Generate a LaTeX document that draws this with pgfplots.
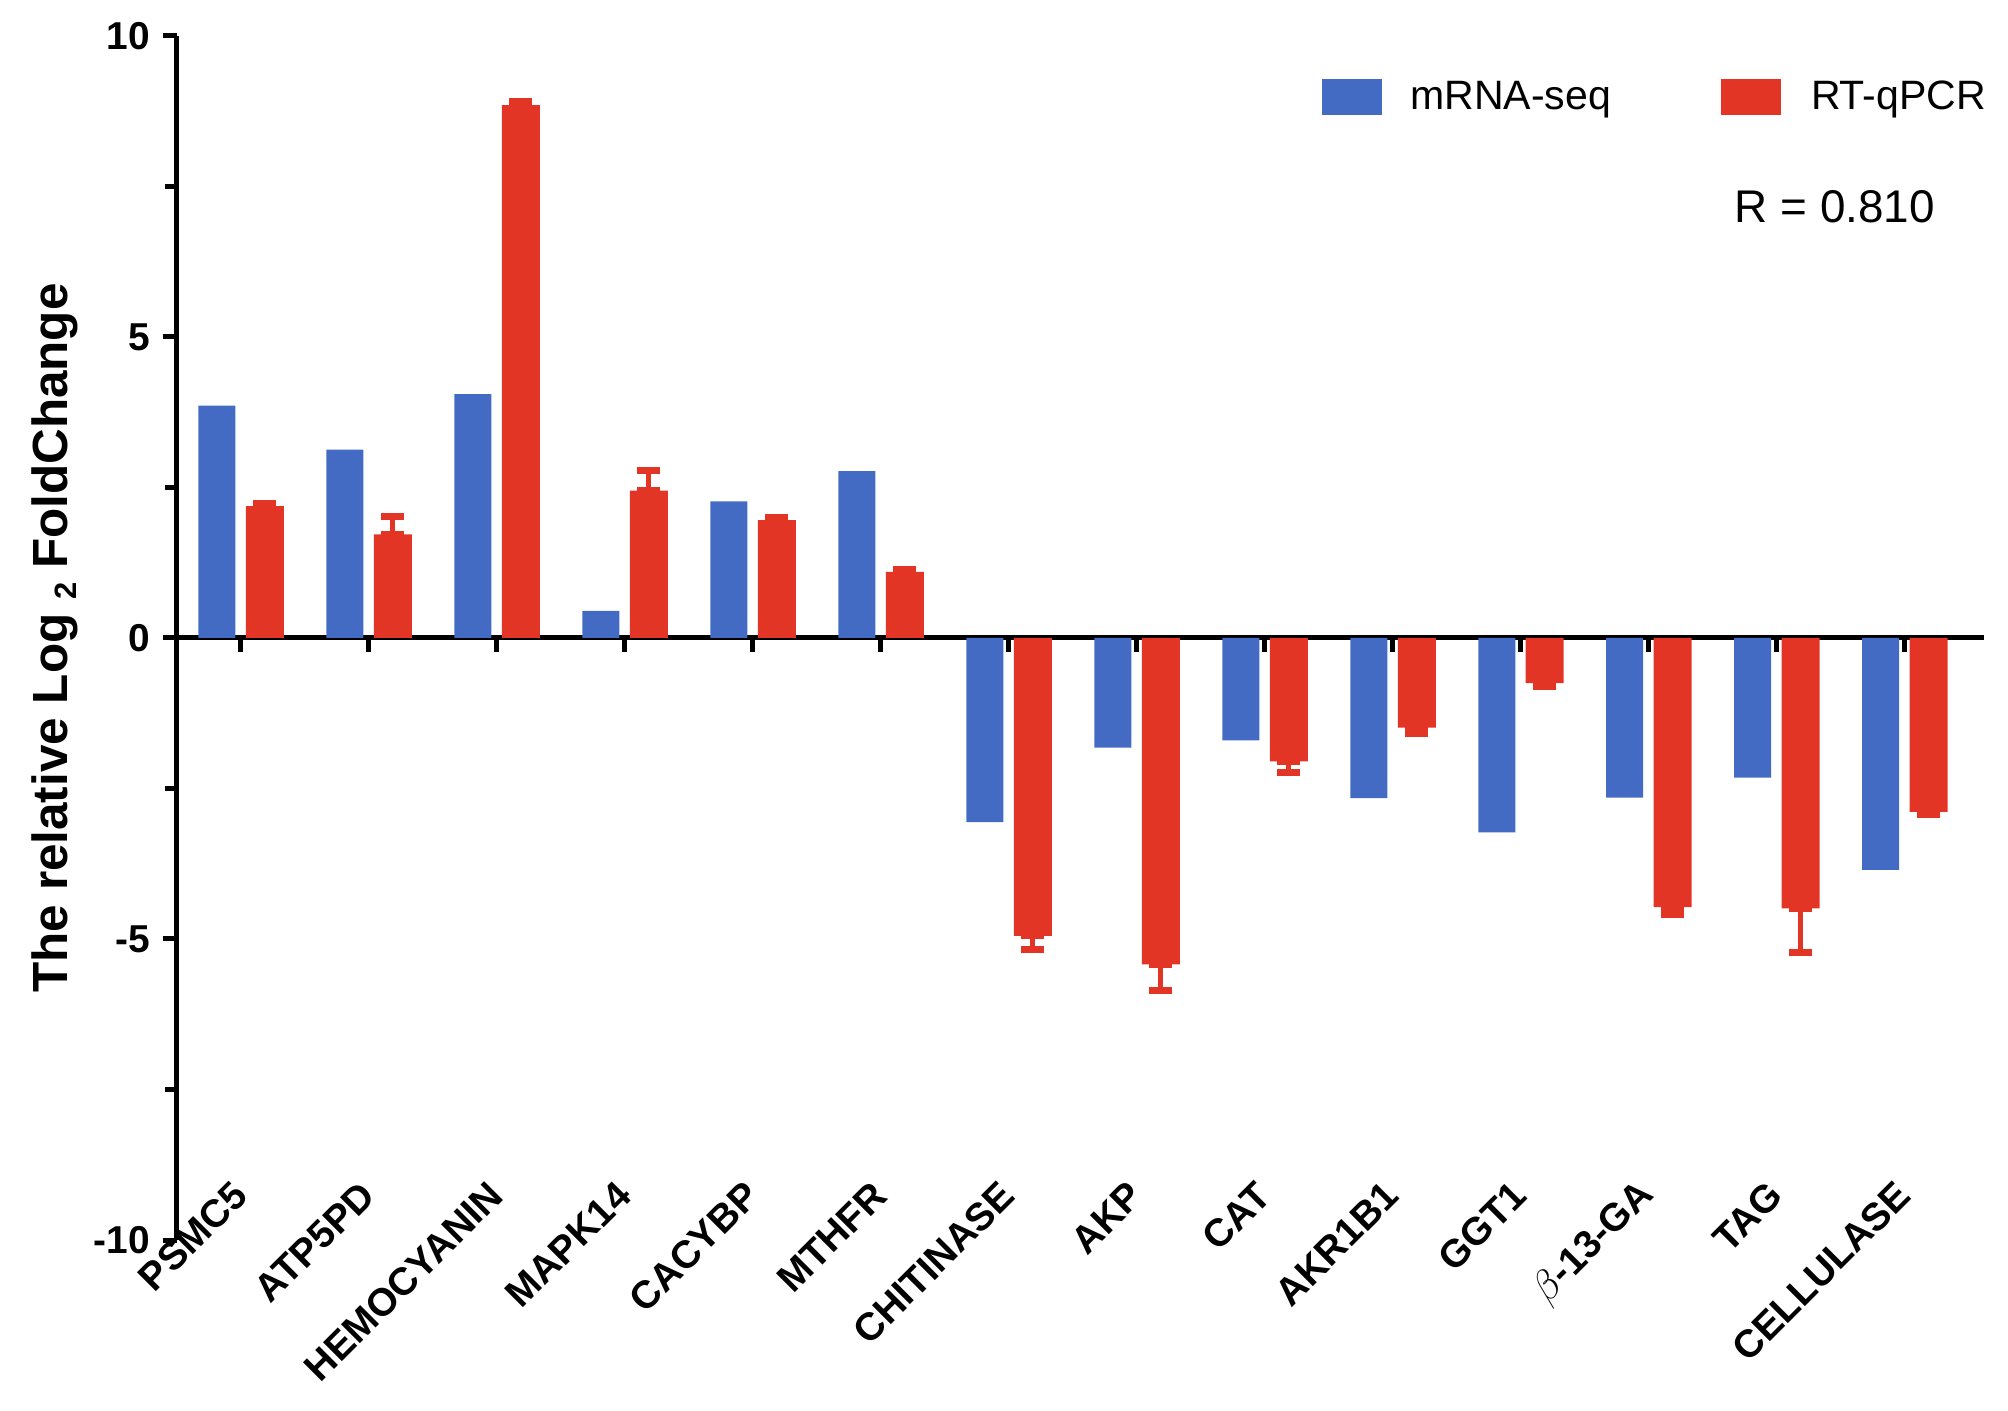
\documentclass[border=0pt]{standalone}
\usepackage{pgfplots}
\pgfplotsset{compat=1.18}
\usepackage{pgfplotstable}
\usepackage{fontspec}
\setmainfont{Liberation Sans}

\definecolor{seqblue}{RGB}{67,107,196}
\definecolor{pcrred}{RGB}{227,53,38}

% log2 fold change, mRNA-seq vs RT-qPCR (ep/em = one-sided error of qPCR)
\pgfplotstableread{
x  mrna   qpcr   ep    em
0   3.86   2.19  0.04  0
1   3.13   1.72  0.30  0
2   4.05   8.85  0.06  0
3   0.45   2.45  0.33  0
4   2.27   1.96  0.04  0
5   2.77   1.10  0.04  0
6  -3.06  -4.95  0     0.23
7  -1.82  -5.42  0     0.43
8  -1.70  -2.05  0     0.18
9  -2.66  -1.49  0     0.10
10 -3.23  -0.75  0     0.05
11 -2.65  -4.47  0     0.12
12 -2.32  -4.49  0     0.74
13 -3.85  -2.89  0     0.04
}\logfc

\begin{document}
\begin{tikzpicture}
\begin{axis}[
    scale only axis, width=903.5bp, height=602bp,
    xmin=-0.5, xmax=13.62, ymin=-10, ymax=10,
    axis x line=middle, axis y line=left,
    axis line style={-, line width=2.5bp},
    hide obscured x ticks=false, hide obscured y ticks=false,
    every tick/.style={black, line width=2.5bp},
    tick align=outside,
    major tick length=7bp, minor tick length=6bp,
    xtick={0,...,13},
    xticklabels={PSMC5,ATP5PD,HEMOCYANIN,MAPK14,CACYBP,MTHFR,CHITINASE,AKP,CAT,AKR1B1,GGT1,{$\beta$-13-GA},TAG,CELLULASE},
    xticklabel style={font=\bfseries\fontsize{19.5}{19.5}\selectfont, xshift=2bp, rotate=45, anchor=east},
    xticklabel shift=266bp,
    ytick={-10,-5,0,5,10},
    minor ytick={-7.5,-2.5,2.5,7.5},
    yticklabel style={font=\bfseries\fontsize{19.5}{19.5}\selectfont, xshift=-3bp},
    /pgf/number format/assume math mode=true,
    ylabel={The relative Log \raisebox{-0.35ex}{\fontsize{15.5}{15.5}\selectfont 2} FoldChange},
    ylabel style={font=\bfseries\fontsize{24.8}{24.8}\selectfont, at={(rel axis cs:-0.0675,0.5)}, anchor=center},
    legend columns=2,
    legend style={at={(rel axis cs:0.6336,0.9493)}, anchor=west, draw=none, fill=none,
        inner sep=0pt, nodes={inner sep=0pt}, font=\fontsize{20.6}{20.6}\selectfont,
        /tikz/every even column/.append style={column sep=55bp}},
]
  \addplot[ybar, bar width=18.5bp, bar shift=0pt, fill=seqblue, draw=none,
      legend image code/.code={\fill[seqblue] (0bp,-9bp) rectangle (30bp,9bp); \path (44bp,0bp);}]
      table[x expr=\thisrow{x}-0.1875, y=mrna]{\logfc};
  \addlegendentry{mRNA-seq}
  \addplot[ybar, bar width=19bp, bar shift=0pt, fill=pcrred, draw=none,
      legend image code/.code={\fill[pcrred] (0bp,-9bp) rectangle (30bp,9bp); \path (45bp,0bp);},
      error bars/.cd, y dir=both, y explicit,
      error bar style={line width=2.5bp, pcrred},
      error mark options={rotate=90, line width=3.5bp, mark size=5.75bp, pcrred}]
      table[x expr=\thisrow{x}+0.1875, y=qpcr, y error plus=ep, y error minus=em]{\logfc};
  \addlegendentry{RT-qPCR}
  \node[font=\fontsize{23}{23}\selectfont] at (rel axis cs:0.9175,0.858) {R = 0.810};
\end{axis}
\pgfresetboundingbox
\path ([shift={(-88.5bp,-85.5bp)}]current axis.south west) rectangle ([shift={(12bp,18bp)}]current axis.north east);
\end{tikzpicture}
\end{document}
